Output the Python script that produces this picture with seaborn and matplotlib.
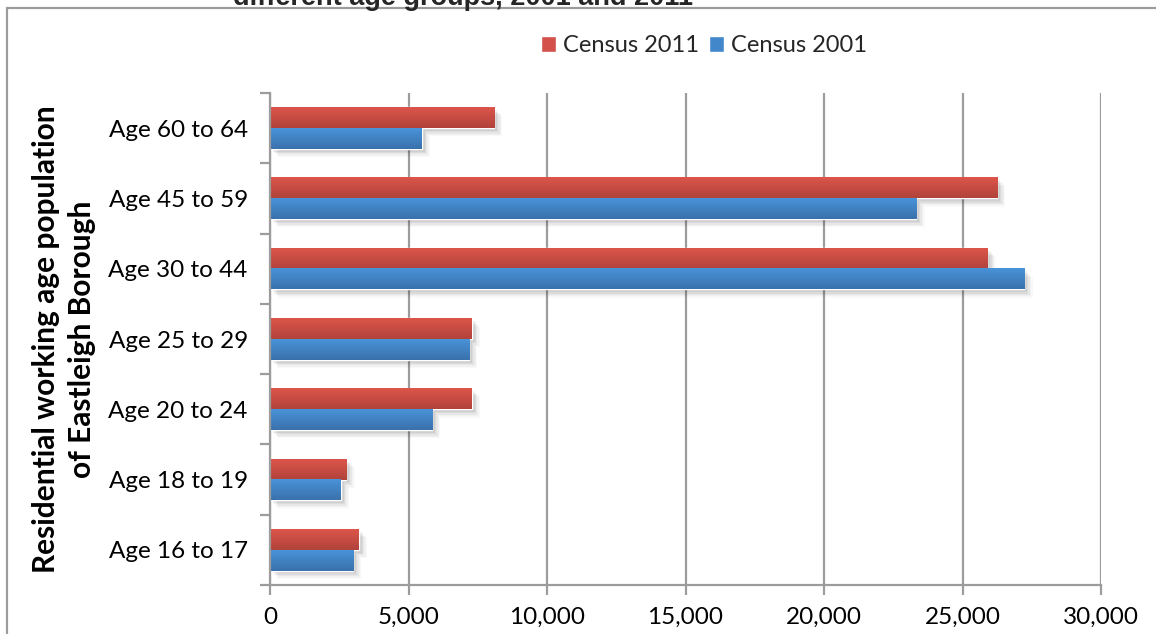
import numpy as np
import pandas as pd
import matplotlib
matplotlib.use("Agg")
import matplotlib.pyplot as plt
import seaborn as sns
from matplotlib.colors import LinearSegmentedColormap
from matplotlib.patches import Rectangle
from matplotlib.ticker import FixedLocator, FuncFormatter
import matplotlib.patheffects as pe

# Working-age population of Eastleigh Borough by age band
age_groups = ["Age 60 to 64", "Age 45 to 59", "Age 30 to 44", "Age 25 to 29",
              "Age 20 to 24", "Age 18 to 19", "Age 16 to 17"]
census_2011 = [8090, 26250, 25900, 7290, 7290, 2750, 3210]
census_2001 = [5480, 23330, 27230, 7190, 5850, 2560, 3000]
series_names = ["Census 2011", "Census 2001"]
x_ticks = [0, 5000, 10000, 15000, 20000, 25000, 30000]

df = pd.DataFrame({
    "group": age_groups * 2,
    "census": [series_names[0]] * len(age_groups) + [series_names[1]] * len(age_groups),
    "people": census_2011 + census_2001,
})

sns.set_theme(style="white")
plt.rcParams["font.family"] = ["Lato", "DejaVu Sans"]

grid_col = "#9C9C9C"
palette = {"Census 2011": "#D4504A", "Census 2001": "#4387CB"}
gradients = {
    "Census 2011": LinearSegmentedColormap.from_list("r", ["#DC554A", "#B1433B"]),
    "Census 2001": LinearSegmentedColormap.from_list("b", ["#4993D9", "#3A71AB"]),
}

W, H = 1156, 634
fig = plt.figure(figsize=(W / 100, H / 100), dpi=100)
ax = fig.add_axes([270 / W, 1 - 585 / H, 831 / W, 492 / H])

sns.barplot(data=df, y="group", x="people", hue="census", order=age_groups,
            hue_order=series_names, palette=palette, width=0.59, orient="h",
            saturation=1, ax=ax, zorder=3)

ax.set_xlim(0, 30000)
ax.set_ylim(len(age_groups) - 0.5, -0.5)

# soft drop shadow and vertical shading on each bar
shadow = [pe.SimplePatchShadow(offset=(o, -o), shadow_rgbFace="k", alpha=a)
          for o, a in [(6, 0.025), (5, 0.035), (4, 0.045), (3, 0.055), (2, 0.06)]] + [pe.Normal()]
grad = np.linspace(0, 1, 64).reshape(-1, 1)
bars = [p for p in ax.patches if p.get_width() > 0]
n = len(age_groups)
for i, p in enumerate(bars):
    name = series_names[i // n]
    p.set_path_effects(shadow)
    x0, y0, w, h = p.get_x(), p.get_y(), p.get_width(), p.get_height()
    ax.imshow(grad, cmap=gradients[name], extent=[x0, x0 + w, y0 + h, y0],
              origin="upper", aspect="auto", interpolation="bilinear", zorder=4)
ax.set_xlim(0, 30000)
ax.set_ylim(len(age_groups) - 0.5, -0.5)

# axes, grid and ticks
for s in ["top", "right"]:
    ax.spines[s].set_visible(False)
for s in ["left", "bottom"]:
    ax.spines[s].set_color(grid_col)
    ax.spines[s].set_linewidth(1.6)
    ax.spines[s].set_zorder(5)
ax.xaxis.set_major_locator(FixedLocator(x_ticks))
ax.xaxis.set_major_formatter(FuncFormatter(lambda v, _: f"{int(v):,}"))
ax.grid(axis="x", color=grid_col, linewidth=1.6, zorder=0)
ax.grid(axis="y", visible=False)
ax.tick_params(axis="x", which="major", length=7, width=1.6, color=grid_col,
               direction="out", pad=9, labelsize=17.5, labelcolor="black", bottom=True)
ax.yaxis.set_minor_locator(FixedLocator(np.arange(-0.5, len(age_groups), 1.0)))
ax.tick_params(axis="y", which="minor", length=7, width=1.6, color=grid_col,
               direction="out", left=True)
ax.tick_params(axis="y", which="major", length=0, pad=16, labelsize=17.5,
               labelcolor="black")
ax.set_xlabel("")
ax.set_ylabel("Residential working age population\nof Eastleigh Borough",
              fontsize=21.5, fontweight="bold", color="black", labelpad=9,
              linespacing=1.35)

# legend above the plot
handles, labels = ax.get_legend_handles_labels()
if ax.legend_ is not None:
    ax.legend_.remove()
fig.legend(handles, labels, loc="center", bbox_to_anchor=(704 / W, 1 - 46 / H),
           ncol=2, frameon=False, fontsize=17, handlelength=0.65, handleheight=0.65,
           handletextpad=0.3, columnspacing=0.4, borderaxespad=0)

# chart frame and heading
fig.patches.append(Rectangle((7 / W, -0.1), 1.2, 1.1 - 8 / H, transform=fig.transFigure,
                             fill=False, edgecolor=grid_col, linewidth=1.6, clip_on=False))
fig.text(463 / W, 1 - 5 / H, "different age groups, 2001 and 2011", ha="center",
         va="baseline", fontsize=19.5, fontweight="bold", family="Liberation Sans")

fig.savefig("out.png", dpi=100, facecolor="white")
